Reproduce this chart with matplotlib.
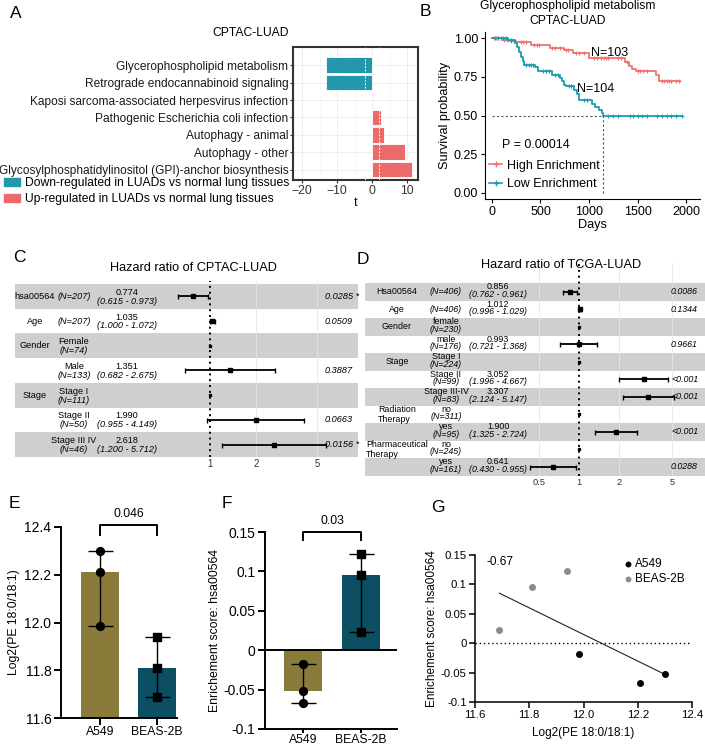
import numpy as np
import matplotlib
matplotlib.use("Agg")
import matplotlib.pyplot as plt
from matplotlib import transforms
from matplotlib.patches import Patch
from matplotlib.lines import Line2D

plt.rcParams['font.family'] = ['Liberation Sans', 'DejaVu Sans']

W, H = 705, 749

# ---------------- data ----------------
# A: pathway t values (top -> bottom)
a_terms = ["Glycerophospholipid metabolism",
           "Retrograde endocannabinoid signaling",
           "Kaposi sarcoma-associated herpesvirus infection",
           "Pathogenic Escherichia coli infection",
           "Autophagy - animal",
           "Autophagy - other",
           "Glycosylphosphatidylinositol (GPI)-anchor biosynthesis"]
a_t = [-13.2, -13.2, 0.3, 2.5, 3.4, 9.4, 11.5]

# B: Kaplan-Meier steps (time, survival after drop)
hi_t = [0, 100, 180, 250, 400, 600, 740, 840, 1000, 1370, 1410, 1440, 1480, 1690, 1720]
hi_s = [1.0, 0.99, 0.983, 0.976, 0.955, 0.935, 0.925, 0.903, 0.869, 0.847, 0.82, 0.80, 0.787, 0.76, 0.723]
hi_end = 1940
hi_cens = [20, 40, 60, 90, 120, 150, 200, 230, 300, 320, 350, 430, 460, 480, 620, 650, 700,
           760, 780, 870, 900, 950, 1050, 1080, 1120, 1150, 1180, 1200, 1300, 1330, 1390,
           1500, 1530, 1560, 1600, 1750, 1770, 1800, 1820, 1850, 1900, 1930]
lo_t = [0, 170, 240, 255, 275, 300, 320, 335, 440, 470, 615, 700, 720, 745, 760, 850, 880,
        900, 1030, 1060, 1100, 1130, 1140]
lo_s = [1.0, 0.985, 0.97, 0.94, 0.91, 0.875, 0.85, 0.826, 0.81, 0.787, 0.76, 0.745, 0.72,
        0.70, 0.69, 0.665, 0.64, 0.60, 0.575, 0.555, 0.535, 0.515, 0.50]
lo_end = 1960
lo_cens = [30, 60, 110, 140, 200, 350, 380, 400, 420, 530, 560, 590, 650, 680, 790, 810,
           950, 980, 1200, 1250, 1300, 1420, 1450, 1500, 1550, 1600, 1700, 1750, 1800,
           1850, 1900, 1960]
median_low = 1140

# C: CPTAC forest
c_var = ["hsa00564", "Age", "Gender", "", "Stage", "", ""]
c_level = ["", "", "Female", "Male", "Stage I", "Stage II", "Stage III IV"]
c_n = [207, 207, 74, 133, 111, 50, 46]
c_hr = [0.774, 1.035, np.nan, 1.351, np.nan, 1.990, 2.618]
c_lo = [0.615, 1.000, np.nan, 0.682, np.nan, 0.955, 1.200]
c_hi = [0.973, 1.072, np.nan, 2.675, np.nan, 4.149, 5.712]
c_p = ["0.0285 *", "0.0509", "", "0.3887", "", "0.0663", "0.0156 *"]

# D: TCGA forest
d_var = ["Hsa00564", "Age", "Gender", "", "Stage", "", "", "Radiation\nTherapy", "",
         "Pharmaceutical\nTherapy", ""]
d_level = ["", "", "female", "male", "Stage I", "Stage II", "Stage III-IV", "no", "yes", "no", "yes"]
d_n = [406, 406, 230, 176, 224, 99, 83, 311, 95, 245, 161]
d_hr = [0.856, 1.012, np.nan, 0.993, np.nan, 3.052, 3.307, np.nan, 1.900, np.nan, 0.641]
d_lo = [0.762, 0.996, np.nan, 0.721, np.nan, 1.996, 2.124, np.nan, 1.325, np.nan, 0.430]
d_hi = [0.961, 1.029, np.nan, 1.368, np.nan, 4.667, 5.147, np.nan, 2.724, np.nan, 0.955]
d_p = ["0.0086", "0.1344", "", "0.9661", "", "<0.001", "<0.001", "", "<0.001", "", "0.0288"]

# E/F/G
cells = ["A549", "BEAS-2B"]
pe_a549 = [12.30, 12.21, 11.985]
pe_beas = [11.94, 11.81, 11.69]
es_a549 = [-0.052, -0.067, -0.018]
es_beas = [0.122, 0.096, 0.023]

TEAL_A, RED_A = "#2597AC", "#EB6A6A"
TEAL_B, RED_B = "#1C9DB0", "#EE7474"
OLIVE, DTEAL = "#8A7B3B", "#0C4E62"

fig = plt.figure(figsize=(W / 100, H / 100), dpi=100)


def px_axes(l, t, r, b):
    return fig.add_axes([l / W, 1 - b / H, (r - l) / W, (b - t) / H])


def letter(x, y, s):
    fig.text(x / W, 1 - y / H, s, fontsize=12.5, ha="left", va="center")


# ---------------- A ----------------
ax = px_axes(293, 47, 418, 180)
ypos = np.arange(len(a_terms))
cols = [TEAL_A if v < 0 else RED_A for v in a_t]
ax.barh(ypos, a_t, height=0.9, color=cols, edgecolor="white", linewidth=0.6, zorder=2)
for xv in (-2, 2):
    ax.axvline(xv, color="white", lw=0.7, ls=(0, (2, 1.5)), zorder=3)
ax.set_xlim(-22.6, 13.1)
ax.set_ylim(6.6, -1.05)
ax.set_yticks(ypos)
ax.set_yticklabels(a_terms, fontsize=8.6, color="#1a1a1a")
ax.set_xticks([-20, -10, 0, 10])
ax.set_xticks([-15, -5, 5], minor=True)
ax.tick_params(axis="x", labelsize=8.7, length=2.5, color="#333333", pad=1, labelcolor="#333333")
ax.tick_params(axis="x", which="minor", length=0)
ax.tick_params(axis="y", length=2.5, color="#333333", pad=1)
ax.grid(True, which="major", color="#ebebeb", lw=0.6, zorder=0)
ax.grid(True, which="minor", axis="x", color="#f4f4f4", lw=0.4, zorder=0)
ax.set_axisbelow(True)
for sp in ax.spines.values():
    sp.set_color("#333333")
    sp.set_linewidth(1.5)
ax.set_xlabel("t", fontsize=9, labelpad=0)
fig.text(289 / W, 1 - 33 / H, "CPTAC-LUAD", fontsize=8.7, ha="right", va="center")
fig.legend([Patch(color=TEAL_A), Patch(color=RED_A)],
           ["Down-regulated in LUADs vs normal lung tissues",
            "Up-regulated in LUADs vs normal lung tissues"],
           loc="upper left", bbox_to_anchor=(4 / W, 1 - 177 / H), frameon=False,
           fontsize=8.7, handlelength=1.3, handleheight=0.7, handletextpad=0.4,
           labelspacing=0.35, borderaxespad=0, borderpad=0)
letter(10, 14, "A")

# ---------------- B ----------------
ax = px_axes(485, 32, 700, 199)


def km(ax, t, s, end, cens, color):
    tt = list(t) + [end]
    ss = list(s) + [s[-1]]
    ax.step(tt, ss, where="post", color=color, lw=1.3)
    idx = np.searchsorted(t, cens, side="right") - 1
    ax.plot(cens, np.array(s)[idx], "+", color=color, ms=3.5, mew=0.8)


km(ax, hi_t, hi_s, hi_end, hi_cens, RED_B)
km(ax, lo_t, lo_s, lo_end, lo_cens, TEAL_B)
ax.plot([0, median_low], [0.5, 0.5], color="#555555", lw=0.8, ls=(0, (2, 2)))
ax.plot([median_low, median_low], [0, 0.5], color="#555555", lw=0.8, ls=(0, (2, 2)))
ax.set_xlim(-72, 2144)
ax.set_ylim(-0.039, 1.039)
ax.set_xticks([0, 500, 1000, 1500, 2000])
ax.set_yticks([0, 0.25, 0.5, 0.75, 1.0])
ax.set_yticklabels(["0.00", "0.25", "0.50", "0.75", "1.00"])
ax.tick_params(labelsize=9, length=3, width=0.8, pad=2)
for sp in ("top", "right"):
    ax.spines[sp].set_visible(False)
for sp in ("left", "bottom"):
    ax.spines[sp].set_linewidth(0.8)
ax.set_ylabel("Survival probability", fontsize=9.2, labelpad=2)
ax.set_xlabel("Days", fontsize=9.2, labelpad=1)
ax.text(1020, 0.865, "N=103", fontsize=9, ha="left", va="bottom")
ax.text(880, 0.635, "N=104", fontsize=9, ha="left", va="bottom")
ax.text(100, 0.31, "P = 0.00014", fontsize=9, ha="left", va="center")
ax.legend([Line2D([], [], color=RED_B, marker="+", lw=1.2, ms=4),
           Line2D([], [], color=TEAL_B, marker="+", lw=1.2, ms=4)],
          ["High Enrichment", "Low Enrichment"], loc="upper left",
          bbox_to_anchor=(0.02, 0.235), frameon=False, fontsize=9,
          handlelength=1.0, handletextpad=0.4, labelspacing=0.5, borderaxespad=0, borderpad=0)
fig.text(568 / W, 1 - 6 / H, "Glycerophospholipid metabolism", fontsize=8.7, ha="center", va="center")
fig.text(568 / W, 1 - 21 / H, "CPTAC-LUAD", fontsize=8.7, ha="center", va="center")
letter(420, 12, "B")


# ---------------- forest plots ----------------
def forest(l, r, top_band, row_h, n, top_ext, one_px, ppl,
           var, level, nn, hr, lo, hi, pv, cols, offs, ticks, grid, fs):
    bottom = top_band + n * row_h
    ax = px_axes(l, top_band - top_ext, r, bottom)
    x_left = np.exp((l - one_px) / ppl)
    x_right = np.exp((r - one_px) / ppl)
    ax.set_xscale("log")
    ax.set_xlim(x_left, x_right)
    ax.set_ylim(n - 0.5, -0.5 - top_ext / row_h)
    ax.patch.set_alpha(0)
    for sp in ax.spines.values():
        sp.set_visible(False)
    for i in range(0, n, 2):
        ax.axhspan(i - 0.5, i + 0.5, color="#cfcfcf", lw=0, zorder=0)
    ax.vlines(grid, n - 0.5, -0.5 - top_ext / row_h, color="#e6e6e6", lw=0.6, zorder=1)
    ax.vlines(1, n - 0.5, -0.5 - top_ext / row_h, color="black", lw=1.4, ls=(0, (1, 2)), zorder=2)
    tr = transforms.blended_transform_factory(ax.transAxes, ax.transData)

    def fx(px):
        return (px - l) / (r - l)

    up, dn = offs
    for i in range(n):
        if var[i]:
            ax.text(fx(cols[0]), i, var[i], transform=tr, ha="center", va="center",
                    fontsize=fs, multialignment="left")
        ntxt = f"(N={nn[i]})"
        if level[i]:
            ax.text(fx(cols[1]), i + up, level[i], transform=tr, ha="center", va="center", fontsize=fs)
            ax.text(fx(cols[1]), i + dn, ntxt, transform=tr, ha="center", va="center",
                    fontsize=fs, style="italic")
        else:
            ax.text(fx(cols[1]), i, ntxt, transform=tr, ha="center", va="center",
                    fontsize=fs, style="italic")
        if not np.isnan(hr[i]):
            ax.text(fx(cols[2]), i + up, f"{hr[i]:.3f}", transform=tr, ha="center",
                    va="center", fontsize=fs)
            ax.text(fx(cols[2]), i + dn, f"({lo[i]:.3f} - {hi[i]:.3f})", transform=tr,
                    ha="center", va="center", fontsize=fs, style="italic")
            ax.errorbar(hr[i], i, xerr=[[hr[i] - lo[i]], [hi[i] - hr[i]]], fmt="s",
                        color="black", ms=2.2, elinewidth=1.3, capsize=1.8, capthick=1.0, zorder=4)
        else:
            ax.plot(1, i, "s", color="black", ms=2.0, zorder=4)
        if pv[i]:
            ax.text(fx(cols[3]), i, pv[i], transform=tr, ha="left", va="center",
                    fontsize=fs, style="italic")
    ax.set_yticks([])
    ax.set_xticks(ticks)
    ax.set_xticks([], minor=True)
    ax.set_xticklabels([f"{t:g}" for t in ticks])
    ax.tick_params(axis="x", length=0, labelsize=fs + 0.3, pad=1.5, labelcolor="#333333")
    return ax


forest(15, 358, 284, 24.7, 7, 3, 210, 66.4, c_var, c_level, c_n, c_hr, c_lo, c_hi, c_p,
       (35, 74, 127, 325), (-0.16, 0.2), [1, 2, 5], [2, 5], 6.6)
fig.text(193 / W, 1 - 268 / H, "Hazard ratio of CPTAC-LUAD", fontsize=9.2, ha="center", va="center")
letter(13, 258, "C")

forest(365, 705, 283.25, 17.5, 11, 20, 579, 58, d_var, d_level, d_n, d_hr, d_lo, d_hi, d_p,
       (397, 446, 498, 671), (-0.3, 0.14), [0.5, 1, 2, 5], [0.5, 2, 5], 6.4)
fig.text(561 / W, 1 - 265 / H, "Hazard ratio of TCGA-LUAD", fontsize=9.2, ha="center", va="center")
letter(357, 260, "D")


# ---------------- E / F ----------------
def style_prism(ax, xlen, xpad):
    for sp in ("top", "right"):
        ax.spines[sp].set_visible(False)
    for sp in ("left", "bottom"):
        ax.spines[sp].set_linewidth(1.4)
    ax.tick_params(axis="y", width=1.4, length=5, labelsize=10, pad=2)
    ax.tick_params(axis="x", width=1.4, length=xlen, labelsize=8.8, pad=xpad)


def bars(ax, groups, markers):
    for x, (vals, col, mk) in enumerate(zip(groups, (OLIVE, DTEAL), markers)):
        med = np.median(vals)
        ax.bar(x, med, width=0.66, color=col, zorder=1)
        ax.errorbar(x, med, yerr=[[med - min(vals)], [max(vals) - med]], fmt="none",
                    ecolor="black", elinewidth=1.0, capsize=9, capthick=1.0, zorder=3)
        ax.scatter([x] * len(vals), vals, marker=mk, s=32, color="black", zorder=4, clip_on=False)


ax = px_axes(61, 527, 177, 718)
bars(ax, [pe_a549, pe_beas], ("o", "s"))
ax.set_ylim(11.6, 12.4)
ax.set_xlim(-0.684, 1.35)
ax.set_yticks([11.6, 11.8, 12.0, 12.2, 12.4])
ax.set_xticks([0, 1])
ax.set_xticklabels(cells)
style_prism(ax, 5, 1)
ax.set_ylabel("Log2(PE 18:0/18:1)", fontsize=8.8, labelpad=3)
ax.plot([0, 0, 1, 1], [12.367, 12.408, 12.408, 12.367], color="black", lw=1.4, clip_on=False)
ax.text(0.5, 12.43, "0.046", ha="center", va="bottom", fontsize=8.8)
letter(9, 504, "E")

ax = px_axes(265, 532, 397, 729)
bars(ax, [es_a549, es_beas], ("o", "s"))
ax.axhline(0, color="black", lw=1.4, zorder=2)
ax.set_ylim(-0.1, 0.15)
ax.set_xlim(-0.655, 1.62)
ax.set_yticks([-0.1, -0.05, 0, 0.05, 0.1, 0.15])
ax.set_yticklabels(["-0.1", "-0.05", "0", "0.05", "0.1", "0.15"])
ax.set_xticks([0, 1])
ax.set_xticklabels(cells)
style_prism(ax, 3, 0.3)
ax.set_ylabel("Enrichement score: hsa00564", fontsize=8.8, labelpad=2)
ax.plot([0, 0, 1, 1], [0.14, 0.15, 0.15, 0.14], color="black", lw=1.4, clip_on=False)
ax.text(0.5, 0.156, "0.03", ha="center", va="bottom", fontsize=8.8)
letter(222, 504, "F")

# ---------------- G ----------------
ax = px_axes(475, 555, 692, 702)
xs = np.array(pe_a549 + pe_beas)
ys = np.array(es_a549 + es_beas)
k, b = np.polyfit(xs, ys, 1)
r = np.corrcoef(xs, ys)[0, 1]
xl = np.array([xs.min(), xs.max()])
ax.plot(xl, k * xl + b, color="#222222", lw=0.8)
ax.axhline(0, color="black", lw=1.0, ls=(0, (1, 2)))
ax.scatter(pe_a549, es_a549, s=16, color="black", zorder=3, label="A549")
ax.scatter(pe_beas, es_beas, s=16, color="#8c8c8c", zorder=3, label="BEAS-2B")
ax.set_xlim(11.6, 12.4)
ax.set_ylim(-0.1, 0.15)
ax.set_xticks([11.6, 11.8, 12.0, 12.2, 12.4])
ax.set_yticks([-0.1, -0.05, 0, 0.05, 0.1, 0.15])
ax.set_yticklabels(["-0.1", "-0.05", "0", "0.05", "0.1", "0.15"])
for sp in ("top", "right"):
    ax.spines[sp].set_visible(False)
for sp in ("left", "bottom"):
    ax.spines[sp].set_linewidth(1.1)
ax.tick_params(width=1.1, length=4, labelsize=8.2, pad=2)
ax.text(0.055, 0.955, f"{r:.2f}", transform=ax.transAxes, fontsize=8.5, ha="left", va="center")
ax.legend(loc="upper left", bbox_to_anchor=(0.69, 0.98), frameon=False, fontsize=8.5,
          handlelength=0.6, handletextpad=0.3, labelspacing=0.3, borderaxespad=0,
          borderpad=0, markerscale=0.8)
ax.set_xlabel("Log2(PE 18:0/18:1)", fontsize=8.5, labelpad=5)
ax.set_ylabel("Enrichement score: hsa00564", fontsize=8.5, labelpad=2)
letter(431, 508, "G")

fig.savefig("out.png", dpi=100, facecolor="white")
